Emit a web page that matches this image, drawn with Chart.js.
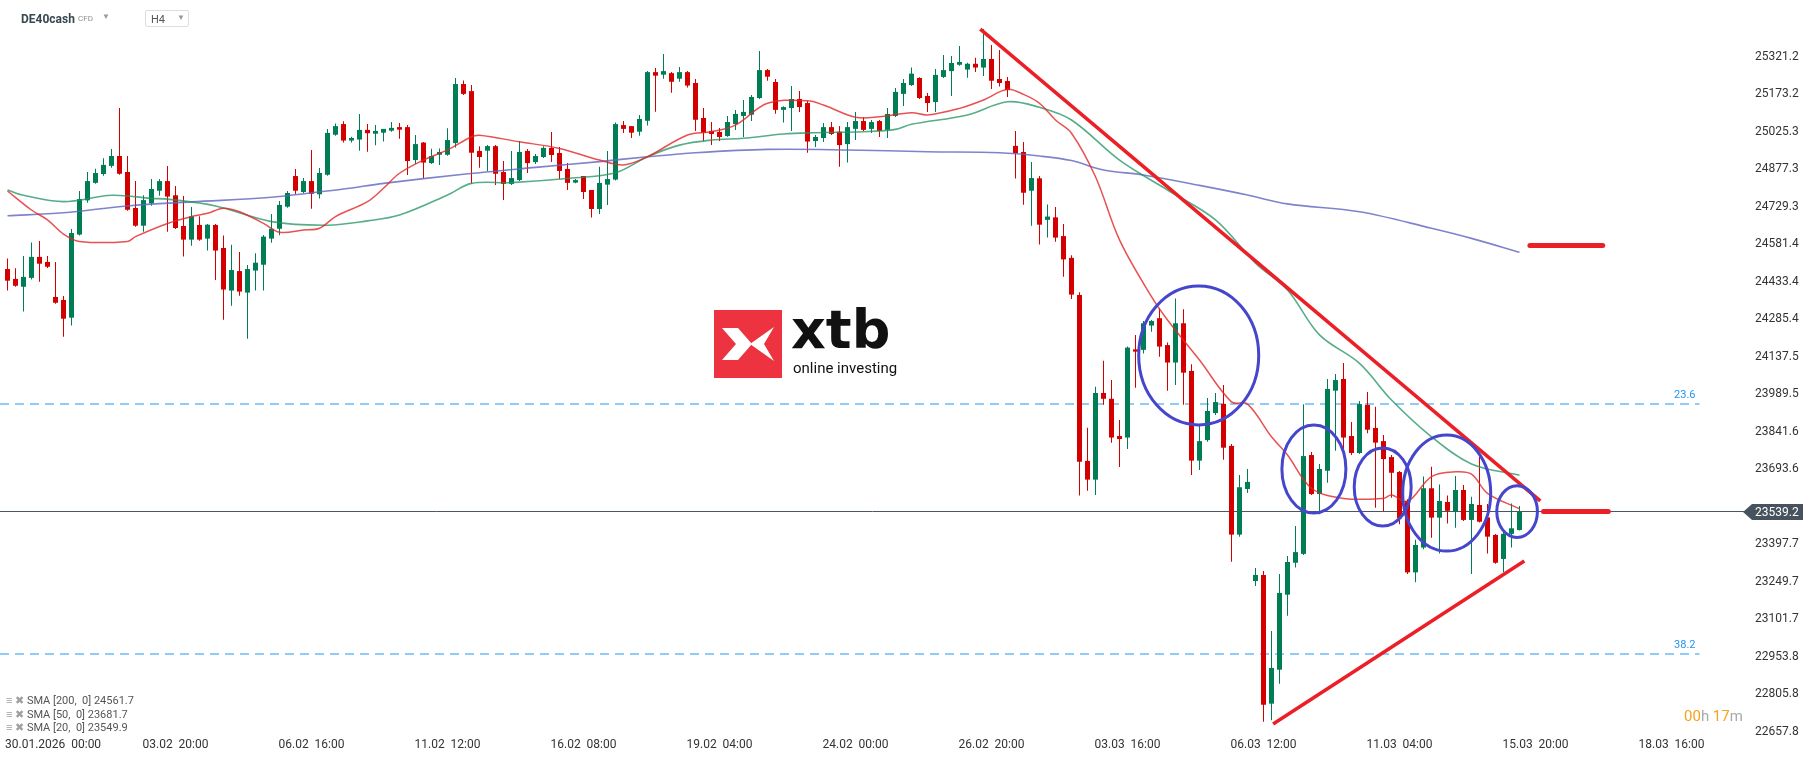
<!DOCTYPE html>
<html>
<head>
<meta charset="utf-8">
<title>DE40cash H4</title>
<script src="https://cdn.jsdelivr.net/npm/chart.js@4.4.1/dist/chart.umd.min.js"></script>
<style>
    html, body { margin: 0; padding: 0; background: #fff; }
    #wrap { position: relative; width: 1815px; height: 761px; font-family: Roboto, "Noto Sans", sans-serif; overflow: hidden; }
    #grafico { position: absolute; left: 0; top: 0; }
    .abs { position: absolute; white-space: pre; line-height: 1; }
    #symbol { left: 21px; top: 13px; font-size: 12px; font-weight: bold; color: #37474f; }
    #cfd { left: 78px; top: 15px; font-size: 8px; color: #8f8f8f; }
    #caret1 { left: 102px; top: 13px; font-size: 8px; color: #9a9a9a; }
    #interval { left: 145px; top: 10px; width: 42px; height: 15px; border: 1px solid #dedede; border-radius: 2px; }
    #interval span { position: absolute; }
    #interval .h4 { left: 5px; top: 3px; font-size: 11px; color: #555; }
    #interval .caret { left: 31px; top: 3px; font-size: 8px; color: #9a9a9a; }
    .sma { left: 6px; font-size: 11px; color: #555; }
    .sma i { font-style: normal; color: #a0a0a0; font-size: 11px; }
    #logoMark { left: 714px; top: 310px; width: 68px; height: 68px; background: #ee3340; white-space: normal; }
    #logoMark svg { display: block; }
    #logoText { left: 791px; top: 303px; font-family: "DejaVu Sans", sans-serif; font-weight: bold; font-size: 54px; color: #111; }
    #logoSub { left: 793px; top: 361px; font-size: 15px; color: #111; }
    #timer { left: 1684px; top: 709px; font-size: 15px; }
    #timer .o { color: #f7a21b; }
    #timer .g { color: #a9a9a9; }
</style>
</head>
<body>
<div id="wrap">
    <canvas id="grafico" width="1815" height="761"></canvas>

    <div class="abs" id="symbol">DE40cash</div>
    <div class="abs" id="cfd">CFD</div>
    <div class="abs" id="caret1">▼</div>
    <div class="abs" id="interval"><span class="h4">H4</span><span class="caret">▼</span></div>

    <div class="abs" id="logoMark"><svg width="68" height="68" viewBox="0 0 68 68"><polygon points="8,18 24,18 38,34 24,50 8,50 22,34" fill="#fff"/><polygon points="36,34 60,17 50,34 60,51" fill="#fff"/></svg></div>
    <div class="abs" id="logoText">xtb</div>
    <div class="abs" id="logoSub">online investing</div>

    <div class="abs sma" style="top:695px"><i>≡ ✖</i> SMA [200,  0] 24561.7</div>
    <div class="abs sma" style="top:709px"><i>≡ ✖</i> SMA [50,  0] 23681.7</div>
    <div class="abs sma" style="top:722px"><i>≡ ✖</i> SMA [20,  0] 23549.9</div>

    <div class="abs" id="timer"><span class="o">00</span><span class="g">h </span><span class="o">17</span><span class="g">m</span></div>
</div>

<script>
// --- velas H4 (indice 0 = 29.01 08:00) ---
const opens = [
    24496,24457,24426,24461,24544,24524,24386,24374,24304,24632,
    24767,24836,24871,24903,24942,24879,24737,24667,24755,24805,
    24843,24787,24666,24612,24670,24616,24670,24579,24411,24488,
    24403,24490,24513,24616,24655,24742,24863,24800,24843,24791,
    24868,25026,25068,25003,25007,25045,25030,25034,25042,25056,
    25056,24926,24995,24914,24947,24947,24993,25226,25198,24962,
    24963,24981,24879,24832,24847,24962,24918,24938,24974,24954,
    24891,24837,24863,24808,24733,24829,24849,25064,25060,25038,
    25081,25273,25263,25269,25247,25273,25230,25092,25041,25037,
    25021,25068,25100,25105,25171,25281,25234,25124,25131,25167,
    25151,25001,25013,25056,25038,24989,25049,25080,25049,25080,
    25045,25100,25187,25222,25250,25179,25155,25254,25277,25302,
    25283,25306,25291,25325,25246,25238,24982,24958,24805,24854,
    24690,24700,24626,24540,24394,23739,23665,24007,23984,23837,
    23831,24179,24177,24273,24302,24196,24127,24282,24094,23740,
    23821,23928,23964,23798,23448,23628,23265,23289,22781,22915,
    23211,23337,23372,23762,23608,23700,24016,24062,23837,23770,
    23960,23869,23817,23754,23695,23582,23299,23397,23631,23515,
    23577,23540,23624,23506,23565,23516,23447,23352,23451,23466
];
const highs = [
    24538,24499,24547,24601,24607,24547,24524,24390,24654,24804,
    24879,24892,24933,24970,25131,24942,24843,24787,24851,24851,
    24903,24824,24784,24741,24704,24674,24674,24628,24592,24563,
    24512,24558,24630,24713,24764,24804,24891,24855,24966,24895,
    25049,25070,25079,25018,25108,25068,25064,25049,25076,25072,
    25064,25025,24997,24971,24972,25052,25250,25240,25222,24981,
    24985,24985,24922,24962,25001,24970,24950,24981,25037,24978,
    24914,24851,24863,24808,24900,24962,25074,25080,25060,25104,
    25277,25289,25345,25273,25293,25277,25246,25131,25076,25053,
    25100,25124,25163,25183,25356,25285,25246,25138,25218,25199,
    25159,25025,25072,25076,25060,25076,25116,25096,25084,25084,
    25131,25210,25246,25291,25253,25191,25285,25341,25337,25376,
    25310,25330,25443,25380,25360,25254,25041,24997,24918,24863,
    24751,24741,24674,24550,24404,23870,24032,24134,24058,23900,
    24190,24236,24291,24295,24341,24206,24380,24337,24120,23879,
    23987,24007,24038,23806,23683,23707,23316,23304,23068,23293,
    23364,23482,23962,23774,23727,24062,24082,24125,23892,23975,
    24011,23953,23841,23762,23699,23588,23428,23677,23716,23646,
    23602,23679,23644,23597,23756,23569,23450,23464,23571,23561
];
const lows = [
    24411,24426,24328,24455,24446,24500,24359,24229,24273,24628,
    24758,24833,24864,24896,24868,24726,24663,24643,24746,24785,
    24643,24654,24545,24588,24608,24569,24453,24296,24351,24391,
    24221,24411,24411,24600,24629,24738,24792,24796,24734,24774,
    24864,25022,24995,24995,24963,24959,24984,24999,25038,25010,
    24867,24910,24854,24910,24907,24943,24976,25183,24834,24896,
    24883,24828,24768,24828,24843,24875,24910,24934,24918,24851,
    24808,24835,24772,24699,24713,24749,24845,25033,25013,25022,
    25062,25117,25247,25192,25235,25212,25041,25001,24985,25001,
    25018,25045,25017,25080,25167,25239,25109,25074,25041,25116,
    24955,24978,24997,25025,24900,24916,25005,25041,25033,25017,
    25013,25096,25139,25218,25167,25116,25116,25250,25179,25298,
    25251,25273,25258,25206,25216,25175,24853,24750,24667,24593,
    24620,24604,24466,24378,23602,23621,23604,23960,23811,23715,
    23786,24028,24163,24249,24150,24016,24038,23960,23683,23703,
    23814,23920,23743,23341,23440,23612,23245,22710,22716,22860,
    23128,23318,23368,23604,23528,23653,23779,23756,23762,23766,
    23848,23554,23541,23594,23489,23293,23260,23390,23436,23374,
    23492,23475,23502,23293,23496,23374,23333,23300,23397,23464
];
const closes = [
    24450,24430,24465,24544,24517,24505,24363,24300,24638,24772,
    24843,24875,24907,24942,24872,24730,24667,24768,24812,24843,
    24782,24658,24612,24704,24612,24671,24569,24415,24492,24407,
    24496,24521,24624,24655,24749,24796,24805,24843,24793,24875,
    25033,25060,25003,25013,25045,25032,25041,25049,25053,25046,
    24922,24989,24916,24942,24958,25005,25226,25187,24955,24938,
    24981,24872,24832,24855,24958,24914,24942,24974,24946,24883,
    24836,24847,24800,24733,24836,24851,25068,25049,25034,25088,
    25273,25259,25277,25235,25273,25220,25085,25034,25029,25017,
    25076,25108,25116,25175,25281,25255,25124,25135,25167,25135,
    24999,25017,25056,25029,24985,25056,25080,25045,25076,25041,
    25108,25195,25230,25267,25171,25151,25262,25281,25309,25313,
    25306,25291,25325,25239,25230,25202,24953,24797,24855,24671,
    24703,24620,24534,24395,23736,23665,24007,23984,23831,23825,
    24186,24170,24282,24291,24190,24127,24282,24087,23740,23817,
    23936,23971,23791,23448,23635,23656,23289,22777,22922,23218,
    23340,23379,23758,23608,23707,24023,24058,23831,23770,23963,
    23862,23811,23746,23692,23512,23299,23407,23631,23515,23581,
    23542,23624,23506,23569,23499,23440,23337,23451,23473,23539.2
];

// medias moviles (indice de vela, precio)
const sma20Index = [0,3,5,7,9,15,16,20,23,25,27,29,32,34,37,39,41,45,47,49,52,55,58,59,64,69,74,77,80,85,88,91,95,100,102,106,109,113,115,119,122,125,127,129,131,133,136,139,143,145,149,153,155,158,160,163,167,172,173,175,178,181,183,185,189];
const sma20 = [24804,24729,24690,24634,24605,24605,24624,24676,24703,24716,24736,24722,24676,24641,24650,24657,24703,24762,24815,24874,24926,24966,25018,25024,24998,24972,24926,24907,24939,25025,25038,25064,25150,25160,25143,25095,25097,25113,25104,25130,25163,25205,25185,25150,25084,25032,24860,24611,24387,24295,24137,23972,23963,23834,23762,23631,23591,23591,23604,23578,23677,23696,23687,23611,23550];
const sma50Index = [0,2,7,13,18,20,26,33,40,45,49,55,58,63,71,76,80,84,88,92,97,101,107,111,113,120,125,129,133,139,145,151,156,160,164,169,173,178,183,189];
const sma50 = [24808,24787,24762,24787,24775,24772,24745,24683,24669,24686,24709,24788,24834,24837,24856,24876,24939,24985,25005,25012,25029,25034,25038,25047,25067,25104,25156,25134,25084,24926,24808,24690,24519,24413,24236,24124,23979,23834,23727,23682];
const sma200Index = [0,7,15,23,33,42,47,57,66,74,80,86,95,105,115,124,129,133,137,142,149,155,160,169,178,183,189];
const sma200 = [24706,24718,24745,24761,24779,24812,24834,24870,24897,24920,24939,24955,24968,24966,24959,24955,24942,24924,24887,24867,24826,24788,24753,24722,24657,24617,24562];

// ejes
const yTickValues = [25321.2,25173.2,25025.3,24877.3,24729.3,24581.4,24433.4,24285.4,24137.5,23989.5,23841.6,23693.6,23397.7,23249.7,23101.7,22953.8,22805.8,22657.8];
const xTickIndex = [4,21,38,55,72,89,106,123,140,157,174,191,208];
const xTickLabels = ["30.01.2026  00:00","03.02  20:00","06.02  16:00","11.02  12:00","16.02  08:00","19.02  04:00","24.02  00:00","26.02  20:00","03.03  16:00","06.03  12:00","11.03  04:00","15.03  20:00","18.03  16:00"];
const lastPrice = 23539.2;

// dibujos del analista
const fibLevels = [23963.4, 22976.9];
const fibLabels = ["23.6", "38.2"];
const fibEnd = 211.5;
const downTrendIndex = [121.6, 191.6];
const downTrendPrice = [25443, 23581];
const upTrendIndex = [158.2, 189.6];
const upTrendPrice = [22701, 23344];
const levelAIndex = [190.3, 199.4];
const levelAPrice = 24589;
const levelBIndex = [192.0, 200.1];
const levelBPrice = 23539.2;
const ellipseIndex = [148.9, 163.3, 171.9, 179.9, 188.7];
const ellipsePrice = [24155, 23707, 23636, 23612, 23539];
const ellipseIndexRadius = [7.5, 4.0, 3.56, 5.5, 2.54];
const ellipsePriceRadius = [274, 174, 154, 229, 102];

const GREEN = "#007d55";
const RED = "#d40000";
const X_MIN = -0.9375;
const X_MAX = X_MIN + 1745 / 8;
const Y_MIN = 22645.5;
const Y_MAX = 25557.6;

const candleColors = opens.map((o, i) => (closes[i] >= o ? GREEN : RED));
const wickData = highs.map((h, i) => ({ x: i, y: [lows[i], h] }));
const bodyData = opens.map((o, i) => ({ x: i, y: [o, closes[i]] }));
const toPoints = (xs, ys) => xs.map((v, i) => ({ x: v, y: ys[i] }));
const flat = (xs, p) => xs.map((v) => ({ x: v, y: p }));

const lineBase = { type: "line", pointRadius: 0, fill: false };

const overlayPlugin = {
    id: "overlay",
    afterDatasetsDraw(chart) {
        const { ctx, scales: { x, y } } = chart;
        ctx.save();
        ctx.strokeStyle = "#4646cc";
        ctx.lineWidth = 3;
        ellipseIndex.forEach((cx, k) => {
            const px = x.getPixelForValue(cx);
            const py = y.getPixelForValue(ellipsePrice[k]);
            const rx = Math.abs(x.getPixelForValue(cx + ellipseIndexRadius[k]) - px);
            const ry = Math.abs(y.getPixelForValue(ellipsePrice[k] + ellipsePriceRadius[k]) - py);
            ctx.beginPath();
            ctx.ellipse(px, py, rx, ry, 0, 0, Math.PI * 2);
            ctx.stroke();
        });
        ctx.restore();
    },
    afterDraw(chart) {
        const { ctx, scales: { x, y }, chartArea } = chart;
        ctx.save();
        // etiquetas de tiempo
        ctx.font = "12px Roboto";
        ctx.fillStyle = "#333";
        ctx.textBaseline = "middle";
        ctx.textAlign = "left";
        xTickIndex.forEach((idx, k) => {
            const w = ctx.measureText(xTickLabels[k]).width;
            const left = Math.max(x.getPixelForValue(idx) - w / 2, 5);
            ctx.fillText(xTickLabels[k], left, 745);
        });
        // etiquetas fibonacci
        ctx.font = "11px Roboto";
        ctx.fillStyle = "#2196f3";
        ctx.textAlign = "right";
        ctx.textBaseline = "middle";
        fibLevels.forEach((p, k) => {
            ctx.fillText(fibLabels[k], x.getPixelForValue(fibEnd) - 4, y.getPixelForValue(p) - 9);
        });
        // precio actual
        const py = Math.round(y.getPixelForValue(lastPrice));
        const left = chartArea.right - 2;
        ctx.fillStyle = "#46535e";
        ctx.beginPath();
        ctx.moveTo(left, py);
        ctx.lineTo(left + 9, py - 8);
        ctx.lineTo(chart.width - 12, py - 8);
        ctx.lineTo(chart.width - 12, py + 8);
        ctx.lineTo(left + 9, py + 8);
        ctx.closePath();
        ctx.fill();
        ctx.fillStyle = "#fff";
        ctx.font = "12px Roboto";
        ctx.textAlign = "left";
        ctx.fillText(lastPrice.toFixed(1), chartArea.right + 10, py + 0.5);
        ctx.restore();
    },
};

Chart.defaults.font.family = "Roboto";

const configGrafico = {
    type: "bar",
    data: {
        datasets: [
            { ...lineBase, data: toPoints(downTrendIndex, downTrendPrice), borderColor: "#ec1f27", borderWidth: 3.5, order: 0 },
            { ...lineBase, data: toPoints(upTrendIndex, upTrendPrice), borderColor: "#ec1f27", borderWidth: 3.5, order: 0 },
            { ...lineBase, data: flat(levelAIndex, levelAPrice), borderColor: "#ec1f27", borderWidth: 5, borderCapStyle: "round", order: 0 },
            { ...lineBase, data: flat(levelBIndex, levelBPrice), borderColor: "#ec1f27", borderWidth: 5, borderCapStyle: "round", order: 0 },
            { ...lineBase, data: toPoints(sma20Index, sma20), borderColor: "rgba(226,38,38,0.8)", borderWidth: 1.5, tension: 0.35, order: 1 },
            { ...lineBase, data: toPoints(sma50Index, sma50), borderColor: "rgba(30,145,95,0.75)", borderWidth: 1.6, tension: 0.35, order: 1 },
            { ...lineBase, data: toPoints(sma200Index, sma200), borderColor: "rgba(95,100,190,0.8)", borderWidth: 1.6, tension: 0.35, order: 1 },
            {
                data: bodyData,
                backgroundColor: candleColors,
                barThickness: 5,
                minBarLength: 1,
                grouped: false,
                inflateAmount: 0,
                order: 2,
            },
            {
                data: wickData,
                backgroundColor: candleColors,
                barThickness: 1,
                minBarLength: 1,
                grouped: false,
                inflateAmount: 0,
                order: 3,
            },
            { ...lineBase, data: flat([X_MIN, X_MAX], lastPrice), borderColor: "#4a5660", borderWidth: 1, order: 4 },
            { ...lineBase, data: flat([X_MIN, fibEnd], fibLevels[0]), borderColor: "#2196f3", borderWidth: 1, borderDash: [9, 6], order: 5 },
            { ...lineBase, data: flat([X_MIN, fibEnd], fibLevels[1]), borderColor: "#2196f3", borderWidth: 1, borderDash: [9, 6], order: 5 },
        ],
    },
    options: {
        responsive: false,
        animation: false,
        devicePixelRatio: 1,
        layout: { padding: { left: 0, right: 0, top: 0, bottom: 23 } },
        plugins: {
            legend: { display: false },
            tooltip: { enabled: false },
        },
        scales: {
            x: {
                type: "linear",
                display: false,
                offset: false,
                min: X_MIN,
                max: X_MAX,
            },
            y: {
                type: "linear",
                position: "right",
                min: Y_MIN,
                max: Y_MAX,
                grid: { display: false, drawTicks: false },
                border: { display: false },
                afterBuildTicks: (axis) => {
                    axis.ticks = yTickValues.map((v) => ({ value: v }));
                },
                afterFit: (axis) => {
                    axis.width = 70;
                    axis.paddingTop = 0;
                    axis.paddingBottom = 0;
                },
                ticks: {
                    autoSkip: false,
                    padding: 10,
                    crossAlign: "near",
                    labelOffset: -3,
                    color: "#333",
                    font: { family: "Roboto", size: 12 },
                    callback: (value) => Number(value).toFixed(1),
                },
            },
        },
    },
    plugins: [overlayPlugin],
};

const grafico = new Chart(document.getElementById("grafico"), configGrafico);
</script>
</body>
</html>
